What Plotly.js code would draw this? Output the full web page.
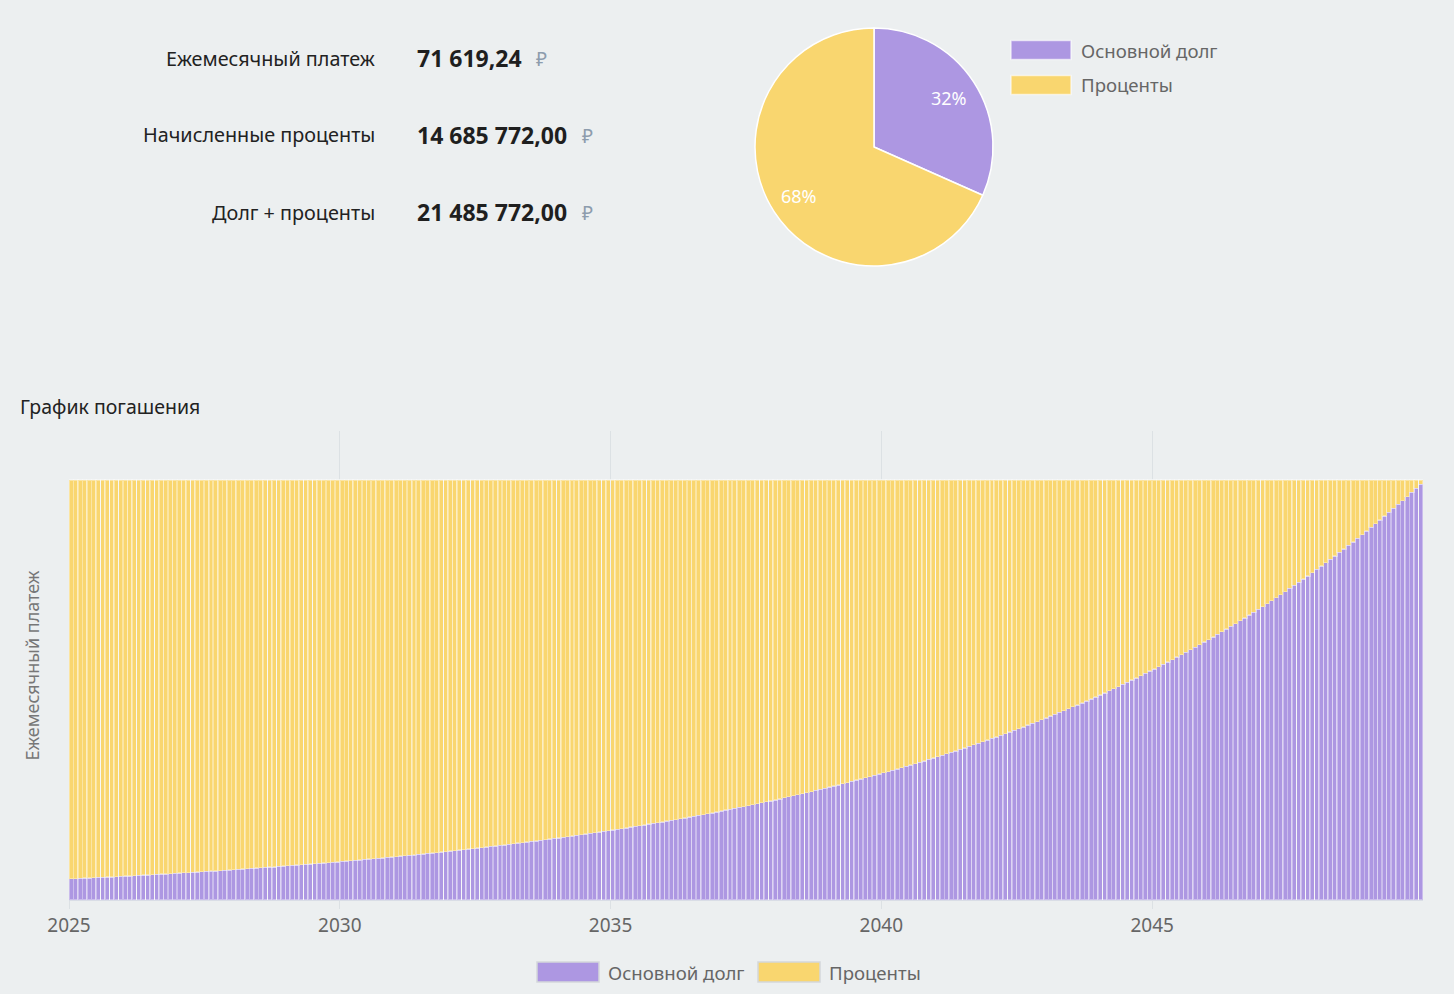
<!DOCTYPE html>
<html>
<head>
<meta charset="utf-8">
<script src="https://cdn.plot.ly/plotly-3.0.1.min.js"></script>
<style>
html,body{margin:0;padding:0;background:#ECEFF0;}
#chart{width:1454px;height:994px;}
</style>
</head>
<body>
<div id="chart"></div>
<script>
// ---------- data ----------
const seriesNames = ["Основной долг", "Проценты"];
const summaryLabels = ["Ежемесячный платеж", "Начисленные проценты", "Долг + проценты"];
const summaryValues = ["71 619,24", "14 685 772,00", "21 485 772,00"];
const pieValues = [6800000, 14685772];
const startYear = 2025;
const monthCount = 300;
const tickYears = [2025, 2030, 2035, 2040, 2045];

const principal = [
3619,3655,3692,3729,3766,3804,3842,3880,3919,3958,3998,4038,
4078,4119,4160,4202,4244,4286,4329,4372,4416,4460,4505,4550,
4595,4641,4688,4735,4782,4830,4878,4927,4976,5026,5076,5127,
5178,5230,5282,5335,5389,5442,5497,5552,5607,5663,5720,5777,
5835,5893,5952,6012,6072,6133,6194,6256,6318,6382,6445,6510,
6575,6641,6707,6774,6842,6910,6980,7049,7120,7191,7263,7336,
7409,7483,7558,7633,7710,7787,7865,7943,8023,8103,8184,8266,
8349,8432,8516,8602,8688,8774,8862,8951,9040,9131,9222,9314,
9407,9501,9596,9692,9789,9887,9986,10086,10187,10289,10392,10496,
10600,10707,10814,10922,11031,11141,11253,11365,11479,11594,11710,11827,
11945,12064,12185,12307,12430,12554,12680,12807,12935,13064,13195,13327,
13460,13594,13730,13868,14006,14146,14288,14431,14575,14721,14868,15017,
15167,15319,15472,15626,15783,15940,16100,16261,16423,16588,16754,16921,
17090,17261,17434,17608,17784,17962,18142,18323,18506,18691,18878,19067,
19258,19450,19645,19841,20040,20240,20443,20647,20853,21062,21273,21485,
21700,21917,22136,22358,22581,22807,23035,23266,23498,23733,23971,24210,
24452,24697,24944,25193,25445,25700,25957,26216,26478,26743,27011,27281,
27554,27829,28107,28388,28672,28959,29249,29541,29836,30135,30436,30741,
31048,31358,31672,31989,32309,32632,32958,33288,33621,33957,34296,34639,
34986,35336,35689,36046,36406,36770,37138,37509,37884,38263,38646,39032,
39423,39817,40215,40617,41023,41434,41848,42266,42689,43116,43547,43983,
44423,44867,45315,45769,46226,46689,47155,47627,48103,48584,49070,49561,
50056,50557,51063,51573,52089,52610,53136,53667,54204,54746,55293,55846,
56405,56969,57539,58114,58695,59282,59875,60474,61078,61689,62306,62929,
63558,64194,64836,65484,66139,66800,67468,68143,68825,69513,70208,70910
];

const interest = [
68000,67964,67927,67890,67853,67815,67777,67739,67700,67661,67621,67581,
67541,67500,67459,67417,67375,67333,67290,67247,67203,67159,67114,67069,
67024,66978,66931,66884,66837,66789,66741,66692,66643,66593,66543,66492,
66441,66389,66337,66284,66230,66177,66122,66067,66012,65956,65899,65842,
65784,65726,65667,65607,65547,65486,65425,65363,65301,65237,65174,65109,
65044,64978,64912,64845,64777,64709,64639,64570,64499,64428,64356,64283,
64210,64136,64061,63986,63909,63832,63754,63676,63596,63516,63435,63353,
63270,63187,63103,63017,62931,62845,62757,62668,62579,62488,62397,62305,
62212,62118,62023,61927,61830,61732,61633,61533,61432,61330,61227,61123,
61019,60912,60805,60697,60588,60478,60366,60254,60140,60025,59909,59792,
59674,59555,59434,59312,59189,59065,58939,58812,58684,58555,58424,58292,
58159,58025,57889,57751,57613,57473,57331,57188,57044,56898,56751,56602,
56452,56300,56147,55993,55836,55679,55519,55358,55196,55031,54865,54698,
54529,54358,54185,54011,53835,53657,53477,53296,53113,52928,52741,52552,
52361,52169,51974,51778,51579,51379,51176,50972,50766,50557,50346,50134,
49919,49702,49483,49261,49038,48812,48584,48353,48121,47886,47648,47409,
47167,46922,46675,46426,46174,45919,45662,45403,45141,44876,44608,44338,
44065,43790,43512,43231,42947,42660,42370,42078,41783,41484,41183,40878,
40571,40261,39947,39630,39310,38987,38661,38331,37998,37662,37323,36980,
36633,36283,35930,35573,35213,34849,34481,34110,33735,33356,32973,32587,
32196,31802,31404,31002,30596,30185,29771,29353,28930,28503,28072,27636,
27196,26752,26304,25850,25393,24930,24464,23992,23516,23035,22549,22058,
21563,21062,20556,20046,19530,19009,18483,17952,17415,16873,16326,15773,
15214,14650,14080,13505,12924,12337,11744,11145,10541,9930,9313,8690,
8061,7425,6783,6135,5480,4819,4151,3476,2794,2106,1411,709
];

// month categories (one per payment)
const months = [];
for (let i = 0; i < monthCount; i++) {
  const y = startYear + Math.floor(i / 12);
  const m = (i % 12) + 1;
  months.push(y + "-" + (m < 10 ? "0" + m : m) + "-01");
}

// ---------- styling ----------
const W = 1454, H = 994;
const px = v => v / W;
const py = v => 1 - v / H;
const PURPLE = "#AD97E2";
const YELLOW = "#F9D66F";
const FONT = "Noto Sans, Open Sans, sans-serif";

// pie geometry (pixels)
const PIE_CX = 874, PIE_CY = 147, PIE_R = 119;

const traces = [
  {
    type: "bar", name: seriesNames[0], x: months, y: principal,
    xperiod: "M1", xperiodalignment: "middle",
    marker: {color: PURPLE, line: {color: "rgba(255,255,255,0.36)", width: 1.4}},
    showlegend: false, hoverinfo: "x+y"
  },
  {
    type: "bar", name: seriesNames[1], x: months, y: interest,
    xperiod: "M1", xperiodalignment: "middle",
    marker: {color: YELLOW, line: {color: "rgba(255,255,255,0.36)", width: 1.4}},
    showlegend: false, hoverinfo: "x+y"
  },
  {
    type: "pie", labels: seriesNames, values: pieValues, sort: false,
    direction: "clockwise", rotation: 0,
    marker: {colors: [PURPLE, YELLOW], line: {color: "#ffffff", width: 1.5}},
    textinfo: "none",
    domain: {x: [px(PIE_CX - PIE_R), px(PIE_CX + PIE_R)], y: [py(PIE_CY + PIE_R), py(PIE_CY - PIE_R)]},
    showlegend: false, hoverinfo: "label+value+percent"
  }
];

const annotations = [];

// percentage labels placed along each slice bisector (derived from the values)
const pieTotal = pieValues.reduce((a, b) => a + b, 0);
let acc = 0;
pieValues.forEach(v => {
  const mid = (acc + v / 2) / pieTotal * 2 * Math.PI; // clockwise from 12 o'clock
  acc += v;
  const r = PIE_R * 0.75;
  annotations.push({xref: "paper", yref: "paper",
    x: px(PIE_CX + r * Math.sin(mid)), y: py(PIE_CY - r * Math.cos(mid)),
    xanchor: "center", yanchor: "middle", showarrow: false,
    text: Math.round(v / pieTotal * 100) + "%",
    font: {family: FONT, size: 18, color: "#ffffff"}});
});

const rowY = [58, 135, 212];
const rubleX = [541, 587, 587];
for (let i = 0; i < 3; i++) {
  annotations.push({xref: "paper", yref: "paper", x: px(377), y: py(rowY[i]),
    xanchor: "right", yanchor: "middle", showarrow: false, text: summaryLabels[i],
    font: {family: FONT, size: 19.8, color: "#222222"}});
  annotations.push({xref: "paper", yref: "paper", x: px(415), y: py(rowY[i]),
    xanchor: "left", yanchor: "middle", showarrow: false, text: "<b>" + summaryValues[i] + "</b>",
    font: {family: FONT, size: 23, color: "#1f1f1f"}});
  annotations.push({xref: "paper", yref: "paper", x: px(rubleX[i]), y: py(rowY[i] + 1),
    xanchor: "center", yanchor: "middle", showarrow: false, text: "₽",
    font: {family: FONT, size: 19, color: "#8D9CAD"}});
}
annotations.push({xref: "paper", yref: "paper", x: px(18), y: py(407),
  xanchor: "left", yanchor: "middle", showarrow: false, text: "График погашения",
  font: {family: FONT, size: 19.5, color: "#222222"}});

// legends (wide swatches)
const shapes = [];
const pieLeg = [{y: 50, c: PURPLE, t: seriesNames[0]}, {y: 85, c: YELLOW, t: seriesNames[1]}];
pieLeg.forEach(o => {
  shapes.push({type: "rect", xref: "paper", yref: "paper", x0: px(1011), x1: px(1071),
    y0: py(o.y - 9.5), y1: py(o.y + 9.5), fillcolor: o.c, line: {color: "rgba(255,255,255,0.6)", width: 1.5}});
  annotations.push({xref: "paper", yref: "paper", x: px(1079), y: py(o.y),
    xanchor: "left", yanchor: "middle", showarrow: false, text: o.t,
    font: {family: FONT, size: 18.6, color: "#666666"}});
});
const barLeg = [{x: 537, c: PURPLE, t: seriesNames[0]}, {x: 758, c: YELLOW, t: seriesNames[1]}];
barLeg.forEach(o => {
  shapes.push({type: "rect", xref: "paper", yref: "paper", x0: px(o.x), x1: px(o.x + 62),
    y0: py(982), y1: py(962), fillcolor: o.c, line: {color: "#D3D7DA", width: 1.5}});
  annotations.push({xref: "paper", yref: "paper", x: px(o.x + 69), y: py(972),
    xanchor: "left", yanchor: "middle", showarrow: false, text: o.t,
    font: {family: FONT, size: 18.6, color: "#666666"}});
});

const layout = {
  width: W, height: H,
  margin: {l: 0, r: 0, t: 0, b: 0},
  paper_bgcolor: "#ECEFF0", plot_bgcolor: "rgba(0,0,0,0)",
  font: {family: FONT, color: "#666666"},
  barmode: "stack", bargap: 0,
  showlegend: false,
  xaxis: {
    type: "date", domain: [px(69), px(1423)],
    range: [startYear + "-01-01", (startYear + 25) + "-01-01"],
    tickmode: "array", tickvals: tickYears.map(y => y + "-01-01"), ticktext: tickYears.map(String),
    showgrid: true, gridcolor: "#DCE1E4", gridwidth: 1,
    ticks: "outside", ticklen: 8, tickcolor: "#DCE1E4",
    showline: true, linecolor: "#D9DDE6", linewidth: 1,
    tickfont: {size: 19, color: "#666666", family: FONT},
    zeroline: false, fixedrange: true
  },
  yaxis: {
    domain: [py(900), py(431)], range: [0, 80000],
    showticklabels: false, showgrid: false, zeroline: false, ticks: "",
    title: {text: "Ежемесячный платеж", font: {size: 18, color: "#777777", family: FONT}, standoff: 23},
    fixedrange: true
  },
  annotations: annotations,
  shapes: shapes
};

Plotly.newPlot("chart", traces, layout, {displayModeBar: false, staticPlot: true});
</script>
</body>
</html>
